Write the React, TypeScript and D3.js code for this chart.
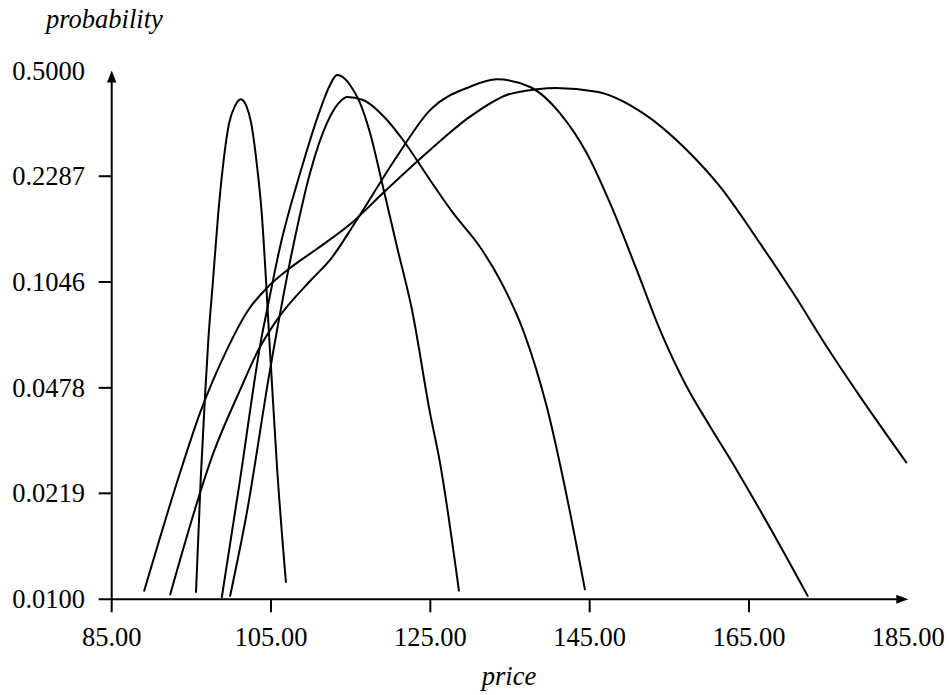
import React from "react";
import * as d3 from "d3";

const xTicks = [85, 105, 125, 145, 165, 185];
const yTicks = [0.01, 0.0219, 0.0478, 0.1046, 0.2287, 0.5];

const seriesA: [number, number][] = [
  [95.58, 0.0105], [96.17, 0.0242], [96.71, 0.0448], [97.13, 0.0681], [97.72, 0.1061],
  [98.38, 0.1743], [99.01, 0.2522], [99.7, 0.335], [100.48, 0.385], [101.2, 0.4043],
  [101.9, 0.385], [102.5, 0.34], [103.2, 0.2522], [103.83, 0.1743], [104.37, 0.1061],
  [104.79, 0.0681], [105.09, 0.0507], [105.72, 0.0274], [106.88, 0.0113],
];
const seriesB: [number, number][] = [
  [98.81, 0.0101], [101.11, 0.0242], [103.87, 0.0707], [104.5, 0.085], [106.13, 0.1355],
  [108.77, 0.2394], [111.15, 0.373], [112.41, 0.4492], [113.29, 0.4835], [114.29, 0.4696],
  [114.92, 0.4492], [116.17, 0.3932], [117.43, 0.315], [119.06, 0.2112], [120.82, 0.1355],
  [122.7, 0.085], [124.96, 0.0397], [126.22, 0.0274], [128.6, 0.0106],
];
const seriesC: [number, number][] = [
  [99.85, 0.0102], [101.95, 0.0189], [104.87, 0.0545], [107.76, 0.1355], [109.9, 0.2343],
  [112.03, 0.3392], [113.41, 0.3903], [114.54, 0.4111], [116.55, 0.402], [119.56, 0.3467],
  [121.57, 0.299], [124.96, 0.2224], [127.85, 0.1743], [131.24, 0.1355], [133.75, 0.1061],
  [136.64, 0.0733], [139.61, 0.0416], [142.13, 0.0214], [144.42, 0.0107],
];
const seriesD: [number, number][] = [
  [92.32, 0.0103], [97.76, 0.0295], [101.11, 0.047], [103.41, 0.0632], [105.72, 0.0789],
  [110.02, 0.1061], [112.41, 0.1231], [115.76, 0.1655], [120.78, 0.2642], [124.96, 0.373],
  [129.98, 0.4435], [133.34, 0.4685], [137.52, 0.4426], [141.28, 0.3643], [144.64, 0.271],
  [147.56, 0.1873], [150.91, 0.1143], [153.84, 0.0733], [157.19, 0.0482], [160.12, 0.0359],
  [163.47, 0.026], [168.03, 0.0163], [172.42, 0.0102],
];
const seriesE: [number, number][] = [
  [89.06, 0.0106], [93.58, 0.0255], [96.09, 0.0397], [99.44, 0.0632], [102.15, 0.085],
  [104.46, 0.1], [107.39, 0.116], [110.74, 0.1335], [115.3, 0.1634], [119.06, 0.202],
  [124.96, 0.2778], [129.98, 0.3553], [134.59, 0.4172], [138.36, 0.4351], [140.78, 0.4393],
  [145.89, 0.4275], [151.74, 0.3643], [157.19, 0.2778], [161.37, 0.2117],
  [166.39, 0.1392], [170.57, 0.0962], [174.77, 0.0648], [178.95, 0.0448], [184.81, 0.0274],
];
const allSeries = [seriesA, seriesB, seriesC, seriesD, seriesE];

const W = 949;
const H = 695;
const FONT = "'Liberation Serif', 'Times New Roman', serif";

export default function App() {
  const x = d3.scaleLinear().domain([85, 185]).range([111.7, 908.3]);
  const y = d3.scaleLog().domain([0.01, 0.5]).range([599.3, 70.5]);
  const line = d3
    .line<[number, number]>()
    .x((d) => x(d[0]))
    .y((d) => y(d[1]))
    .curve(d3.curveMonotoneX);

  const x0 = x(85);
  const y0 = y(0.01);
  const xEnd = x(185);
  const yEnd = y(0.5);

  return (
    <svg
      width={W}
      height={H}
      style={{ position: "absolute", left: 0, top: 0, background: "#fff" }}
      fontFamily={FONT}
    >
      {allSeries.map((s, i) => (
        <path key={i} d={line(s) || ""} fill="none" stroke="#000" strokeWidth={2} />
      ))}
      <line x1={x0} y1={y0 + 13} x2={x0} y2={yEnd + 10} stroke="#000" strokeWidth={2} />
      <line x1={x0 - 13} y1={y0} x2={xEnd - 10} y2={y0} stroke="#000" strokeWidth={2} />
      <path d={`M${x0},${yEnd} L${x0 - 4.7},${yEnd + 12} L${x0 + 4.7},${yEnd + 12} Z`} fill="#000" />
      <path d={`M${xEnd},${y0} L${xEnd - 12},${y0 - 4.5} L${xEnd - 12},${y0 + 4.5} Z`} fill="#000" />
      {yTicks.map((t, i) => (
        <g key={"y" + i}>
          {i > 0 && i < yTicks.length - 1 && (
            <line x1={x0 - 13} x2={x0} y1={y(t)} y2={y(t)} stroke="#000" strokeWidth={2} />
          )}
          <text x={85} y={y(t)} dy="0.34em" textAnchor="end" fontSize={26.5} fill="#000">
            {t.toFixed(4)}
          </text>
        </g>
      ))}
      {xTicks.map((t, i) => (
        <g key={"x" + i}>
          {i > 0 && i < xTicks.length - 1 && (
            <line x1={x(t)} x2={x(t)} y1={y0} y2={y0 + 13} stroke="#000" strokeWidth={2} />
          )}
          <text x={x(t)} y={646} textAnchor="middle" fontSize={26.5} fill="#000">
            {t.toFixed(2)}
          </text>
        </g>
      ))}
      <text x={46} y={28} fontSize={26.5} fontStyle="italic" fill="#000">probability</text>
      <text x={509} y={685} fontSize={26.5} fontStyle="italic" textAnchor="middle" fill="#000">price</text>
    </svg>
  );
}
